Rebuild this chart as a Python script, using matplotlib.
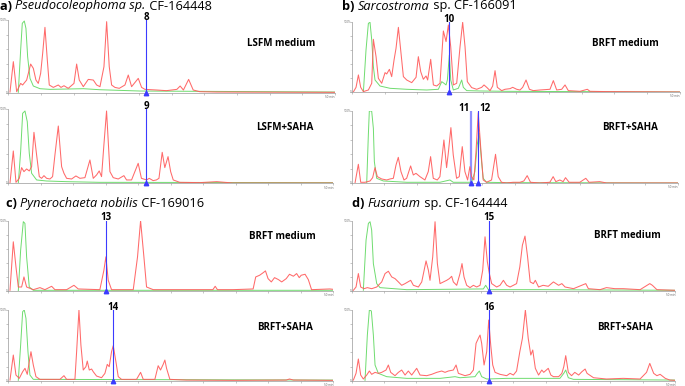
import matplotlib.pyplot as plt

# retention time (min) and relative intensity (%)
A1_RED_T = [0.26, 0.77, 1.28, 1.89, 2.19, 2.81, 3.42, 3.83, 4.23, 4.59, 4.95, 5.26, 5.61, 5.97, 6.27, 6.89, 7.65, 8.06, 8.52, 9.18,
            10.05, 10.46, 10.86, 11.48, 12.24, 13.01, 13.52, 14.03, 14.64, 15.05, 15.45, 15.81, 16.32, 16.98, 17.85, 18.36, 18.87,
            19.89, 20.4, 20.91, 22.7, 24.2, 25.8, 26.3, 26.8, 27.6, 28.3, 29.3, 31.9, 50]
A1_RED_Y = [0.9, 42.7, 1.4, 12.8, 10.6, 17.4, 39.4, 33.5, 17.4, 12.8, 26.6, 54.1, 89.9, 45.0, 10.6, 7.3, 10.6, 7.3, 9.6, 6.0,
            12.8, 39.4, 17.4, 8.3, 18.3, 17.4, 10.6, 8.3, 35.8, 97.7, 35.8, 10.6, 7.3, 6.0, 10.6, 24.3, 8.3,
            19.7, 7.3, 4.6, 3.7, 2.8, 4.6, 9.2, 3.7, 18.3, 3.7, 1.4, 0.9, 0.5]
A1_GRN_T = [1.53, 1.89, 2.14, 2.45, 2.70, 2.96, 3.32, 3.83, 4.85, 6.38, 11.5, 14.0, 20.2, 50]
A1_GRN_Y = [0.5, 58.7, 95.4, 98.6, 88.5, 49.5, 19.7, 9.2, 5.5, 4.6, 5.5, 4.1, 2.3, 0.9]

A2_RED_T = [0.26, 0.77, 1.18, 1.69, 2.05, 2.41, 2.82, 3.23, 3.59, 3.95, 4.36, 4.77, 5.13, 5.49, 5.90, 6.41, 6.82, 7.18, 7.70, 8.21,
            8.57, 8.98, 9.75, 10.41, 11.03, 11.8, 12.57, 13.08, 13.59, 14.0, 14.36, 14.72, 15.13, 15.65, 16.16, 16.93, 17.8,
            18.21, 18.98, 19.49, 20.0, 20.5, 21.3, 21.7, 22.3, 22.8, 23.2, 23.7, 24.1, 24.6, 25.0, 25.4, 26.4, 29.5, 32.1, 34.6, 50]
A2_RED_Y = [0.4, 43.5, 1.3, 6.7, 21.1, 15.7, 19.3, 16.6, 22.4, 68.6, 38.1, 9.0, 6.7, 10.3, 6.7, 5.8, 9.0, 38.1, 77.1, 22.4,
            13.5, 6.7, 5.8, 9.9, 6.7, 7.6, 31.4, 6.7, 11.2, 16.6, 9.0, 51.6, 97.3, 15.7, 7.6, 5.8, 10.3,
            4.5, 4.5, 15.7, 26.9, 6.7, 4.5, 6.7, 3.6, 4.5, 6.7, 41.7, 21.1, 35.9, 15.7, 4.5, 1.3, 0.9, 2.2, 0.4, 0.4]
A2_GRN_T = [1.54, 1.90, 2.21, 2.57, 2.92, 3.23, 3.59, 4.36, 5.90, 8.98, 14.1, 50]
A2_GRN_Y = [0.0, 42.6, 94.2, 97.3, 83.0, 40.4, 13.5, 4.5, 3.1, 2.2, 1.3, 0.9]

B1_RED_T = [0.25, 0.66, 1.02, 1.37, 1.78, 2.54, 3.05, 3.30, 3.71, 4.06, 4.57, 5.08, 5.33, 5.74, 6.09, 6.45, 6.75, 7.11, 7.46, 7.87,
            8.38, 9.14, 9.80, 10.15, 10.51, 10.91, 11.32, 11.57, 12.03, 12.44, 12.94, 13.45, 13.96, 14.37, 14.72, 15.08, 15.48,
            15.99, 16.50, 16.90, 17.26, 17.61, 18.27, 19.04, 19.80, 20.15, 20.56, 21.07, 21.47, 21.83, 22.18, 22.84, 23.35,
            24.11, 24.52, 25.13, 25.63, 26.04, 26.55, 27.06, 27.66, 28.68, 30.20, 30.71, 31.22, 31.98, 32.49, 32.99, 34.77,
            35.89, 36.29, 38.83, 50]
B1_RED_Y = [0.5, 7.1, 24.8, 7.1, 1.0, 3.3, 12.9, 75.7, 50.9, 20.0, 12.9, 28.1, 26.2, 32.8, 22.4, 46.2, 62.8, 92.8, 60.5, 22.4,
            17.6, 13.8, 21.4, 50.9, 29.5, 18.6, 23.3, 17.6, 47.1, 10.5, 9.0, 12.9, 87.6, 72.4, 96.2, 65.2, 10.5,
            12.9, 65.2, 100, 65.2, 15.2, 6.7, 4.3, 7.1, 10.5, 7.1, 2.4, 9.0, 30.9, 7.1, 2.4, 4.3,
            5.2, 7.1, 4.3, 3.3, 7.1, 17.6, 4.3, 2.4, 3.3, 4.3, 16.7, 3.3, 4.3, 10.5, 2.4, 1.4,
            4.3, 1.4, 1.0, 0.5]
B1_GRN_T = [1.78, 2.18, 2.54, 2.79, 3.05, 3.30, 3.55, 4.31, 5.84, 8.38, 11.42, 13.20, 13.71, 14.06, 14.37, 14.57, 14.87, 15.08,
            15.48, 16.24, 16.75, 17.0, 17.51, 19.54, 23.60, 33.76, 50]
B1_GRN_Y = [0.5, 60.5, 98.5, 100, 74.7, 36.7, 17.6, 9.0, 5.7, 4.3, 3.3, 4.3, 15.2, 12.9, 10.5, 17.6, 53.3, 17.6,
            3.3, 5.7, 17.6, 7.1, 2.4, 1.9, 1.4, 1.0, 0.5]

B2_RED_T = [0.51, 1.02, 1.38, 2.04, 2.81, 3.21, 3.57, 3.93, 4.59, 5.36, 5.87, 6.38, 6.79, 7.14, 7.55, 8.01, 8.42, 9.03, 9.44, 9.85,
            10.46, 11.22, 11.73, 12.09, 12.50, 13.11, 13.52, 14.13, 14.54, 14.80, 15.20, 15.56, 16.07, 16.48, 16.94, 17.35,
            17.76, 18.11, 18.37, 18.72, 19.03, 19.39, 19.74, 20.15, 20.66, 21.43, 22.04, 22.45, 22.96, 23.72, 24.74, 25.77,
            26.38, 26.89, 27.40, 28.83, 30.36, 30.87, 31.28, 31.89, 32.40, 32.76, 33.32, 34.95, 35.87, 36.38, 38.01, 39.03, 50]
B2_RED_Y = [0.5, 26.3, 1.4, 1.4, 3.2, 7.8, 21.7, 9.2, 6.0, 4.6, 6.0, 6.9, 25.3, 35.9, 16.1, 4.6, 6.9, 24.0, 11.5, 13.8,
            9.2, 4.6, 16.1, 36.9, 6.9, 4.6, 9.2, 59.9, 21.7, 41.5, 77.0, 39.2, 6.9, 9.2, 50.7, 16.1,
            4.6, 23.0, 9.2, 4.6, 41.5, 97.7, 53.0, 4.6, 1.4, 4.6, 40.1, 9.2, 1.4, 0.5, 1.4, 1.4,
            3.2, 10.6, 1.4, 0.5, 1.4, 9.2, 2.3, 4.6, 2.3, 7.8, 1.4, 1.4, 6.9, 1.4, 2.3, 0.5, 0.5]
B2_GRN_T = [2.30, 2.55, 2.70, 3.06, 3.32, 3.47, 3.83, 4.85, 8.42, 13.52, 15.05, 15.56, 18.37, 18.88, 19.23, 19.54, 19.90,
            20.15, 20.66, 23.72, 50]
B2_GRN_Y = [0.5, 66.8, 100, 100, 76.0, 30.0, 6.9, 3.2, 1.4, 1.4, 4.6, 1.4, 1.4, 16.1, 53.0, 69.1, 30.0,
            6.9, 1.4, 0.9, 0.5]

C1_RED_T = [0.26, 0.77, 1.18, 1.54, 2.05, 2.41, 2.82, 3.85, 4.87, 5.64, 6.67, 7.18, 8.98, 10.11, 10.77, 14.1, 14.72, 15.03,
            15.39, 15.90, 19.24, 19.9, 20.37, 20.88, 21.29, 22.32, 25.9, 31.5, 31.86, 32.2, 34.6, 37.7, 38.1, 38.7, 39.2,
            39.6, 40.0, 40.5, 41.0, 41.6, 42.1, 42.8, 43.3, 43.9, 44.4, 44.8, 45.1, 45.7, 46.2, 46.7, 49.5, 50]
C1_RED_Y = [1.0, 70.0, 34.3, 5.7, 5.7, 20.0, 5.7, 1.9, 4.8, 1.9, 6.7, 1.9, 1.9, 8.1, 2.9, 1.9, 29.5, 48.6,
            15.2, 1.9, 1.9, 48.6, 100, 48.6, 5.7, 1.9, 1.9, 1.9, 6.7, 1.9, 1.9, 2.9, 20.0, 22.4, 25.7,
            28.6, 17.6, 12.9, 19.0, 16.2, 12.9, 17.6, 23.8, 21.0, 24.8, 19.0, 22.4, 23.8, 16.2, 1.9, 2.9, 2.4]
C1_GRN_T = [1.54, 1.90, 2.31, 2.56, 2.82, 3.23, 3.85, 50]
C1_GRN_Y = [0.0, 58.1, 98.6, 96.2, 48.6, 5.7, 1.0, 1.0]

C2_RED_T = [0.26, 0.77, 1.18, 1.69, 2.21, 2.57, 2.92, 3.23, 3.49, 3.85, 4.26, 4.87, 7.95, 8.57, 8.98, 10.26, 10.52, 10.88,
            11.18, 11.54, 11.95, 12.16, 12.47, 12.83, 13.08, 13.59, 14.36, 14.88, 15.24, 15.54, 15.90, 16.16, 16.57, 16.93,
            17.44, 19.75, 20.37, 20.78, 22.57, 23.08, 23.44, 23.85, 24.11, 24.37, 24.88, 27.4, 34.6, 42.8, 43.3, 43.9, 50]
C2_RED_Y = [0.9, 36.3, 8.0, 3.3, 12.7, 17.5, 9.0, 26.9, 41.0, 22.2, 5.7, 1.9, 1.9, 7.1, 1.9, 1.9, 41.0, 100,
            50.5, 15.1, 19.8, 27.8, 15.1, 16.5, 12.7, 6.6, 4.2, 10.4, 23.1, 19.8, 41.0, 49.5, 26.9, 5.7,
            1.9, 1.9, 11.8, 1.9, 1.9, 21.2, 15.1, 23.1, 29.2, 17.5, 1.9, 0.9, 0.5, 0.9, 2.4, 0.9, 0.5]
C2_GRN_T = [1.54, 1.90, 2.21, 2.46, 2.72, 3.03, 3.33, 3.85, 50]
C2_GRN_Y = [0.5, 50.5, 97.6, 100, 88.2, 41.0, 8.0, 1.9, 0.9]

D1_RED_T = [0.26, 0.67, 1.03, 1.39, 1.91, 2.42, 3.09, 3.87, 4.64, 5.16, 5.67, 6.19, 6.70, 7.22, 7.73, 8.25, 9.12, 9.54, 10.31,
            10.83, 11.50, 11.86, 12.11, 12.53, 12.89, 13.25, 13.66, 14.18, 14.69, 15.10, 15.46, 15.72, 16.24, 16.75, 17.06,
            17.37, 17.78, 18.30, 18.82, 19.33, 19.85, 20.26, 20.62, 20.98, 21.29, 21.65, 22.42, 22.94, 23.46, 23.97, 24.49,
            25.0, 25.5, 26.0, 26.4, 26.8, 27.2, 27.6, 28.1, 28.4, 28.9, 29.6, 30.4, 31.2, 32.0, 32.5, 33.0, 34.3, 36.2,
            36.6, 38.4, 39.4, 40.7, 42.0, 44.6, 46.1, 46.5, 47.2, 50]
D1_RED_Y = [1.0, 5.7, 24.8, 5.7, 3.3, 4.8, 3.3, 5.7, 12.9, 24.8, 28.1, 20.0, 17.6, 12.9, 8.1, 10.5, 15.2, 8.1, 5.7,
            12.9, 42.8, 29.5, 15.2, 48.6, 98.5, 39.0, 10.5, 12.9, 15.2, 17.6, 20.9, 12.9, 8.1, 24.8, 39.0,
            20.0, 8.1, 4.8, 8.1, 5.7, 8.1, 29.5, 77.1, 41.4, 24.8, 10.5, 5.7, 8.1, 15.2, 8.1, 5.7,
            8.1, 10.5, 34.3, 65.2, 78.1, 48.6, 12.9, 10.5, 15.2, 5.7, 8.1, 6.7, 12.9, 8.1, 10.5, 5.7, 3.3, 10.5,
            3.3, 1.9, 4.8, 3.3, 3.3, 1.9, 10.5, 8.1, 1.9, 1.0]
D1_GRN_T = [1.80, 2.22, 2.58, 2.84, 3.09, 3.35, 3.87, 4.38, 8.51, 20.36, 20.72, 21.14, 29.1, 50]
D1_GRN_Y = [1.0, 72.4, 96.2, 98.5, 86.6, 39.0, 10.5, 4.8, 1.9, 2.9, 8.1, 1.9, 1.9, 1.0]

D2_RED_T = [0.26, 0.67, 1.03, 1.39, 1.80, 2.32, 2.73, 3.09, 3.61, 4.12, 4.64, 5.31, 5.67, 6.03, 6.70, 7.22, 7.73, 8.25, 8.76,
            9.28, 10.05, 10.57, 11.60, 12.37, 13.15, 13.92, 14.43, 14.95, 15.72, 16.14, 16.50, 17.53, 18.30, 18.82, 19.23,
            19.59, 19.85, 20.10, 20.47, 20.88, 21.19, 21.50, 21.81, 22.17, 22.94, 23.97, 24.49, 25.0, 25.5, 26.0, 26.4,
            26.86, 27.3, 27.7, 28.0, 28.4, 28.9, 29.4, 29.7, 30.4, 30.8, 31.2, 32.0, 32.5, 32.8, 33.1, 33.5, 34.0, 34.5,
            35.1, 35.6, 36.1, 36.4, 37.4, 39.4, 42.0, 44.6, 45.6, 46.1, 46.7, 47.2, 47.7, 48.5, 49.2, 50]
D2_RED_Y = [0.9, 10.4, 30.7, 8.0, 2.4, 8.0, 13.7, 9.0, 11.8, 10.4, 11.8, 15.1, 22.2, 11.8, 7.1, 11.8, 15.1, 8.0, 13.7,
            8.0, 17.5, 8.0, 7.1, 9.0, 11.8, 13.7, 11.8, 13.7, 15.1, 22.2, 10.4, 7.1, 9.0, 15.1, 52.8,
            59.9, 64.6, 52.8, 22.2, 41.0, 85.8, 50.5, 22.2, 11.8, 9.0, 7.1, 10.4, 8.0, 13.7, 41.0, 59.9,
            100, 59.9, 36.3, 43.4, 17.5, 8.0, 15.1, 11.8, 17.5, 8.0, 5.7, 5.7, 10.4, 19.8, 35.4, 11.8, 7.1, 11.8,
            8.0, 12.7, 16.5, 10.4, 4.2, 2.4, 3.3, 2.4, 11.8, 24.5, 10.4, 7.1, 9.0, 3.3, 0.9, 0.5]
D2_GRN_T = [2.06, 2.42, 2.73, 3.04, 3.35, 3.61, 4.12, 5.41, 8.51, 13.66, 15.98, 16.75, 19.07, 19.43, 19.74, 20.10, 20.88,
            23.97, 32.2, 32.8, 33.1, 33.5, 34.3, 50]
D2_GRN_Y = [0.5, 64.6, 100, 98.6, 64.6, 22.2, 10.4, 5.7, 3.3, 3.3, 5.7, 4.2, 5.7, 10.4, 13.7, 5.7, 2.4,
            3.3, 3.3, 10.4, 15.1, 4.2, 1.9, 0.9]

# marked compounds: retention time (min) and number
MARKS = {
    'a1': [(21.1, '8')], 'a2': [(21.2, '9')],
    'b1': [(14.8, '10')], 'b2': [(18.28, '11'), (19.35, '12')],
    'c1': [(15.05, '13')], 'c2': [(16.17, '14')],
    'd1': [(21.28, '15')], 'd2': [(21.28, '16')],
}

TITLES = [
    ('a)', 'Pseudocoleophoma sp.', ' CF-164448', 0, 9.5),
    ('b)', 'Sarcostroma', ' sp. CF-166091', 342, 9.5),
    ('c)', 'Pynerochaeta nobilis', ' CF-169016', 6, 207),
    ('d)', 'Fusarium', ' sp. CF-164444', 352, 207),
]
CONDITIONS = {'a1': 'LSFM medium', 'a2': 'LSFM+SAHA', 'b1': 'BRFT medium', 'b2': 'BRFT+SAHA',
              'c1': 'BRFT medium', 'c2': 'BRFT+SAHA', 'd1': 'BRFT medium', 'd2': 'BRFT+SAHA'}

W, H = 685, 386
RED = '#ff5a5a'
GREEN = '#6fdc6f'
BLUE = '#3b3bff'
FONT = ['Open Sans', 'DejaVu Sans']

plt.rcParams['font.family'] = FONT
fig = plt.figure(figsize=(W / 100, H / 100), dpi=100)

# axes boxes in pixels: left, top, right, bottom
boxes = {
    'a1': (8.3, 20, 335, 92.7), 'a2': (8.3, 109, 333, 183.3),
    'b1': (351.7, 22.3, 680, 92.3), 'b2': (351.7, 111, 678, 183.3),
    'c1': (8.3, 220.7, 333, 291), 'c2': (8.3, 310, 333, 380.7),
    'd1': (351.7, 220.7, 675, 291), 'd2': (351.7, 310, 675, 380.7),
}
traces = {
    'a1': (A1_RED_T, A1_RED_Y, A1_GRN_T, A1_GRN_Y), 'a2': (A2_RED_T, A2_RED_Y, A2_GRN_T, A2_GRN_Y),
    'b1': (B1_RED_T, B1_RED_Y, B1_GRN_T, B1_GRN_Y), 'b2': (B2_RED_T, B2_RED_Y, B2_GRN_T, B2_GRN_Y),
    'c1': (C1_RED_T, C1_RED_Y, C1_GRN_T, C1_GRN_Y), 'c2': (C2_RED_T, C2_RED_Y, C2_GRN_T, C2_GRN_Y),
    'd1': (D1_RED_T, D1_RED_Y, D1_GRN_T, D1_GRN_Y), 'd2': (D2_RED_T, D2_RED_Y, D2_GRN_T, D2_GRN_Y),
}

for key, (l, t, r, b) in boxes.items():
    ax = fig.add_axes([l / W, 1 - b / H, (r - l) / W, (b - t) / H])
    rt, ry, gt, gy = traces[key]
    ax.plot(gt, gy, color=GREEN, lw=0.7, zorder=2)
    ax.plot(rt, ry, color=RED, lw=0.75, alpha=0.9, zorder=3)
    ax.set_xlim(0, 50)
    ax.set_ylim(0, 100)
    for s in ['top', 'right']:
        ax.spines[s].set_visible(False)
    for s in ['left', 'bottom']:
        ax.spines[s].set_color('#999999')
        ax.spines[s].set_linewidth(0.5)
    ax.set_xticks(range(0, 51, 5))
    ax.set_yticks(range(0, 101, 20))
    ax.tick_params(length=1.2, width=0.4, color='#999999', labelbottom=False, labelleft=False)
    ax.patch.set_alpha(0)
    ax.text(-0.002, 1.0, '100%', transform=ax.transAxes, fontsize=2.2, ha='right', va='center', color='#666666')
    ax.text(-0.002, 0.0, '0', transform=ax.transAxes, fontsize=2.2, ha='right', va='center', color='#666666')
    ax.text(1.0, -0.03, '50 min', transform=ax.transAxes, fontsize=2.2, ha='right', va='top', color='#666666')

    marks = MARKS[key]
    for i, (rt_m, lab) in enumerate(marks):
        light = key == 'b2' and lab == '11'
        ax.plot([rt_m, rt_m], [0, 100], color='#8f8fff' if light else BLUE,
                lw=1.6 if light else 0.8, zorder=4 if not light else 1)
        ax.plot([rt_m], [0], marker='^', color=BLUE, markersize=3.2, clip_on=False, zorder=5)
        if len(marks) == 2:
            ha, dx = ('right', -1) if i == 0 else ('left', 1)
        else:
            ha, dx = 'center', 0
        ax.annotate(lab, (rt_m, 100), xytext=(dx, 0.2), textcoords='offset points',
                    ha=ha, va='baseline', fontsize=7, fontweight='bold', annotation_clip=False)

    cx, cy = {'a1': (281, 43), 'a2': (285, 128), 'b1': (625, 43), 'b2': (630, 128),
              'c1': (282, 237), 'c2': (285, 327), 'd1': (627, 236), 'd2': (625, 327)}[key]
    fig.text(cx / W, 1 - cy / H, CONDITIONS[key], ha='center', va='center', fontsize=7, fontweight='bold')

# panel titles: bold letter, italic species, plain strain id
overlay = fig.add_axes([0, 0, 1, 1])
overlay.set_axis_off()
for letter, species, rest, x, y in TITLES:
    t1 = overlay.text(x / W, 1 - y / H, letter + ' ', fontsize=9.2, fontweight='bold', va='baseline')
    t2 = overlay.annotate(species, xy=(1, 0), xycoords=t1, fontsize=9.2, style='italic', va='bottom')
    overlay.annotate(rest, xy=(1, 0), xycoords=t2, fontsize=9.2, va='bottom')

fig.savefig('out.png', dpi=100)
